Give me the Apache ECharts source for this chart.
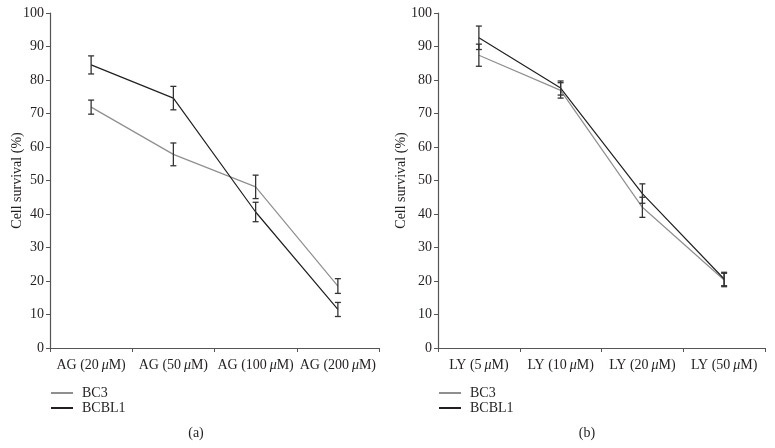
<!DOCTYPE html>
<html>
<head>
<meta charset="utf-8">
<script src="https://cdn.jsdelivr.net/npm/echarts@6/dist/echarts.min.js"></script>
<style>html,body{margin:0;padding:0;background:#fff}#c{width:775px;height:448px}</style>
</head>
<body>
<div id="c"></div>
<script>
// ---- data ----
const catsA = ['AG (20 μM)', 'AG (50 μM)', 'AG (100 μM)', 'AG (200 μM)'];
const catsB = ['LY (5 μM)', 'LY (10 μM)', 'LY (20 μM)', 'LY (50 μM)'];
const seriesNames = ['BC3', 'BCBL1'];
const bc3A = [71.9, 57.8, 48.1, 18.5];
const bc3AErr = [2.1, 3.4, 3.5, 2.2];
const bcbl1A = [84.5, 74.6, 40.6, 11.5];
const bcbl1AErr = [2.7, 3.5, 2.9, 2.1];
const bc3B = [87.4, 76.9, 42.0, 20.3];
const bc3BErr = [3.3, 2.3, 3.0, 2.0];
const bcbl1B = [92.6, 77.6, 46.1, 20.6];
const bcbl1BErr = [3.5, 2.1, 2.9, 2.0];
const yMin = 0, yMax = 100, yStep = 10;
const yTitle = 'Cell survival (%)';
const captions = ['(a)', '(b)'];

const FONT = '"Liberation Serif", serif';
const FS = 14;
const TXT = '#231f20';
const C_BC3 = '#8f8f8f';
const C_BCBL1 = '#231f20';
const C_ERR = '#333333';

function errData(vals, errs) {
  return vals.map((v, i) => [i, v - errs[i], v + errs[i]]);
}
function errRender(params, api) {
  const x = api.value(0);
  const lo = api.coord([x, api.value(1)]);
  const hi = api.coord([x, api.value(2)]);
  const w = 3;
  const st = { stroke: C_ERR, lineWidth: 1.3 };
  return {
    type: 'group',
    children: [
      { type: 'line', shape: { x1: hi[0], y1: hi[1], x2: lo[0], y2: lo[1] }, style: st },
      { type: 'line', shape: { x1: hi[0] - w, y1: hi[1], x2: hi[0] + w, y2: hi[1] }, style: st },
      { type: 'line', shape: { x1: lo[0] - w, y1: lo[1], x2: lo[0] + w, y2: lo[1] }, style: st }
    ]
  };
}
function catLabel(v) {
  const p = v.split('μ');
  return '{a|' + p[0].replace(/ $/, '\u2009') + '}{i|μ}{a|' + p[1] + '}';
}
const rich = {
  a: { fontFamily: FONT, fontSize: FS, color: TXT },
  i: { fontFamily: FONT, fontSize: FS, color: TXT, fontStyle: 'italic' }
};
function xAxis(cats, gi) {
  return {
    type: 'category', data: cats, gridIndex: gi, boundaryGap: true,
    axisLine: { lineStyle: { color: '#555', width: 1.2 } },
    axisTick: { show: true, length: 4, inside: false, interval: 0, lineStyle: { color: '#555' } },
    axisLabel: { formatter: catLabel, rich: rich, margin: 10, interval: 0 }
  };
}
function yAxis(gi, gap) {
  return {
    type: 'value', gridIndex: gi, min: yMin, max: yMax, interval: yStep,
    name: yTitle, nameLocation: 'middle', nameGap: gap, nameRotate: 90, nameMoveOverlap: false,
    nameTextStyle: { fontFamily: FONT, fontSize: FS, color: TXT },
    splitLine: { show: false },
    axisLine: { show: true, lineStyle: { color: '#555', width: 1.2 } },
    axisTick: { show: true, length: 4, lineStyle: { color: '#555' } },
    axisLabel: { fontFamily: FONT, fontSize: FS, color: TXT, margin: 6 }
  };
}
function lineSeries(name, data, idx, color) {
  return {
    name: name, type: 'line', data: data, xAxisIndex: idx, yAxisIndex: idx,
    symbol: 'none', lineStyle: { color: color, width: 1.2 }, itemStyle: { color: color },
    animation: false, z: 2
  };
}
function errSeries(name, vals, errs, idx) {
  return {
    name: name, type: 'custom', xAxisIndex: idx, yAxisIndex: idx,
    data: errData(vals, errs), renderItem: errRender, animation: false, z: 3,
    encode: { x: 0, y: [1, 2] }
  };
}
function legend(left) {
  return {
    data: seriesNames.map(n => ({ name: n, textStyle: { fontFamily: FONT, fontSize: FS, color: TXT } })),
    left: left, top: 381, orient: 'vertical', icon: 'rect',
    itemWidth: 22, itemHeight: 2, itemGap: 1, selectedMode: false,
    textStyle: { fontFamily: FONT, fontSize: FS, color: TXT, padding: [0, 0, 0, 4] }
  };
}

const chart = echarts.init(document.getElementById('c'), null, { renderer: 'canvas' });
chart.setOption({
  backgroundColor: '#fff',
  animation: false,
  textStyle: { fontFamily: FONT },
  grid: [
    { left: 50, top: 13, width: 329, height: 335 },
    { left: 438, top: 13, width: 327, height: 335 }
  ],
  xAxis: [xAxis(catsA, 0), xAxis(catsB, 1)],
  yAxis: [yAxis(0, 26), yAxis(1, 30)],
  legend: [legend(46), legend(434)],
  series: [
    lineSeries(seriesNames[0], bc3A, 0, C_BC3),
    lineSeries(seriesNames[1], bcbl1A, 0, C_BCBL1),
    errSeries(seriesNames[0], bc3A, bc3AErr, 0),
    errSeries(seriesNames[1], bcbl1A, bcbl1AErr, 0),
    lineSeries(seriesNames[0], bc3B, 1, C_BC3),
    lineSeries(seriesNames[1], bcbl1B, 1, C_BCBL1),
    errSeries(seriesNames[0], bc3B, bc3BErr, 1),
    errSeries(seriesNames[1], bcbl1B, bcbl1BErr, 1)
  ],
  graphic: [
    { type: 'text', x: 196, y: 433, style: { text: captions[0], fontFamily: FONT, fontSize: FS, fill: TXT, align: 'center', verticalAlign: 'middle' } },
    { type: 'text', x: 587, y: 433, style: { text: captions[1], fontFamily: FONT, fontSize: FS, fill: TXT, align: 'center', verticalAlign: 'middle' } }
  ]
});
</script>
</body>
</html>
